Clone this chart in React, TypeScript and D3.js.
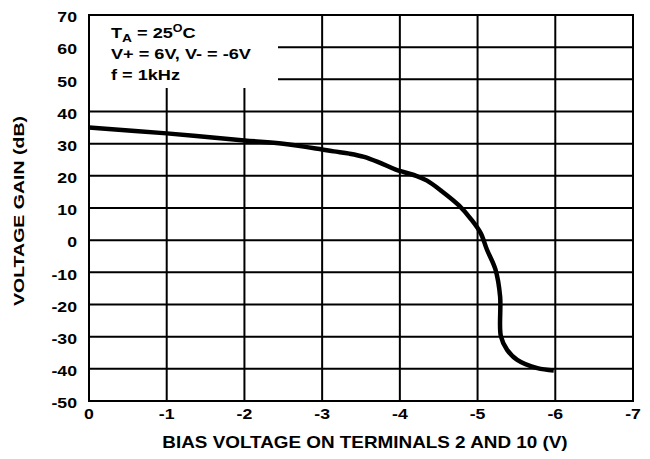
import React from "react";
import * as d3 from "d3";

const xTicks = [0, -1, -2, -3, -4, -5, -6, -7];
const yTicks = [70, 60, 50, 40, 30, 20, 10, 0, -10, -20, -30, -40, -50];
const biasV = [0, -1, -2, -2.5, -3, -3.15, -3.35, -3.54, -3.74, -3.94, -4.21, -4.35, -4.53, -4.76, -4.92, -5.04, -5.12, -5.23, -5.29, -5.3, -5.38, -5.51, -5.77, -5.98];
const gainDb = [35, 33.2, 31, 30, 28.2, 27.6, 26.9, 25.9, 24.1, 22.0, 20.0, 18.5, 15.4, 10.8, 6.4, 2.2, -2.9, -9.1, -17.5, -29.9, -34.1, -37.2, -39.8, -40.5];

const W = 650, H = 459;
const left = 89, right = 633, top = 15, bottom = 401;
const font = "'Liberation Sans', Arial, sans-serif";
const SX = 1.22;

export default function App() {
  const x = d3.scaleLinear().domain([0, -7]).range([left, right]);
  const y = d3.scaleLinear().domain([-50, 70]).range([bottom, top]);
  const pts = biasV.map((v, i) => [v, gainDb[i]] as [number, number]);
  const line = d3.line<[number, number]>().x(d => x(d[0])).y(d => y(d[1])).curve(d3.curveCatmullRom.alpha(0.5));
  return (
    <svg width={W} height={H} style={{ position: "absolute", left: 0, top: 0, background: "#fff" }}>
      <rect x={0} y={0} width={W} height={H} fill="#fff" />
      {xTicks.map(t => (
        <line key={"vx" + t} x1={x(t)} x2={x(t)} y1={top} y2={bottom} stroke="#000" strokeWidth={2} />
      ))}
      {yTicks.map(t => (
        <line key={"hy" + t} x1={left} x2={right} y1={y(t)} y2={y(t)} stroke="#000" strokeWidth={2} />
      ))}
      <rect x={left + 1} y={top + 1} width={188} height={72} fill="#fff" />
      <rect x={left} y={top} width={right - left} height={bottom - top} fill="none" stroke="#000" strokeWidth={2} />
      <path d={line(pts) || ""} fill="none" stroke="#000" strokeWidth={4.5} strokeLinejoin="round" />
      <g fontFamily={font} fontWeight="bold" fontSize={14.5} fill="#000">
        {yTicks.map(t => (
          <text key={"ly" + t} transform={`translate(77,${y(t) + 2}) scale(${SX},1)`} dy="0.36em" textAnchor="end">{t}</text>
        ))}
        {xTicks.map(t => (
          <text key={"lx" + t} transform={`translate(${x(t)},419) scale(${SX},1)`} textAnchor="middle">{t}</text>
        ))}
        <text transform={`translate(365,448) scale(1.18,1)`} fontSize={16} textAnchor="middle">BIAS VOLTAGE ON TERMINALS 2 AND 10 (V)</text>
        <text transform={`translate(24,211) rotate(-90) scale(1.26,1)`} fontSize={15.5} textAnchor="middle">VOLTAGE GAIN (dB)</text>
        <g transform={`translate(111,0) scale(1.25,1)`}>
          <text x={0} y={38}>T<tspan fontSize={11} dy={4}>A</tspan><tspan dy={-4}> = 25</tspan><tspan fontSize={10} dy={-6}>O</tspan><tspan dy={6}>C</tspan></text>
          <text x={0} y={59.5}>V+ = 6V, V- = -6V</text>
          <text x={0} y={80}>f = 1kHz</text>
        </g>
      </g>
    </svg>
  );
}
